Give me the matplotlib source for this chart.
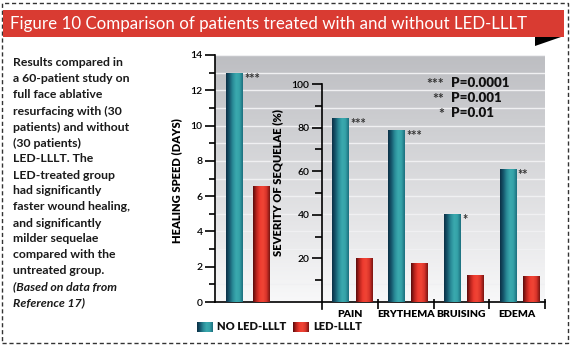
import numpy as np
import matplotlib as mpl
import matplotlib.pyplot as plt
from matplotlib.patches import Rectangle, Polygon
from matplotlib.colors import LinearSegmentedColormap

# data
healing_groups = ['NO LED-LLLT', 'LED-LLLT']
healing_days = [13.0, 6.55]
healing_stars = '***'

sequelae_cats = ['PAIN', 'ERYTHEMA', 'BRUISING', 'EDEMA']
sequelae_no_led = [84.5, 79.0, 40.5, 61.0]
sequelae_led = [20.0, 18.0, 12.5, 12.0]
sequelae_stars = ['***', '***', '*', '**']

p_stars = ['***', '**', '*']
p_values = ['P=0.0001', 'P=0.001', 'P=0.01']

caption_lines = ["Results compared in", "a 60-patient study on",
                 "full face ablative", "resurfacing with (30",
                 "patients) and without", "(30 patients)", "LED-LLLT. The",
                 "LED-treated group", "had significantly",
                 "faster wound healing,", "and significantly",
                 "milder sequelae", "compared with the", "untreated group."]
caption_ref_lines = ["(Based on data from", "Reference 17)"]
title = "Figure 10 Comparison of patients treated with and without LED-LLLT"

W, H = 573, 352
mpl.rcParams['font.family'] = ['Lato', 'DejaVu Sans']

teal_cmap = LinearSegmentedColormap.from_list(
    'teal', ['#0b2f45', '#16586e', '#2a8c98', '#3aa9ae', '#35a2a8', '#1d6f7e'])
red_cmap = LinearSegmentedColormap.from_list(
    'red', ['#5a0c0c', '#b8231d', '#ee3b2f', '#f04535', '#d8332a', '#7a1512'])
bg_cmap = LinearSegmentedColormap.from_list('bg', ['#f8f8f9', '#bdbec2'])
grad = np.linspace(0, 1, 64).reshape(1, -1)


def px(x0, y0, x1, y1):
    # pixel box (top-left origin) -> figure rect
    return [x0 / W, 1 - y1 / H, (x1 - x0) / W, (y1 - y0) / H]


def gradient_bars(ax, bars, cmap):
    for b in bars:
        x, y = b.get_xy()
        w, h = b.get_width(), b.get_height()
        b.set_facecolor('none')
        b.set_edgecolor('none')
        im = ax.imshow(grad, cmap=cmap, extent=(x, x + w, y, y + h),
                       aspect='auto', zorder=3, interpolation='bilinear')
        im.set_clip_path(b)


fig = plt.figure(figsize=(W / 100, H / 100), dpi=100)

# dashed frame, banner
fig.patches.append(Rectangle((2 / W, 1 - 343 / H), 566 / W, 340 / H,
                             transform=fig.transFigure, fill=False,
                             edgecolor='#333333', lw=1, linestyle=(0, (3, 2))))
fig.patches.append(Rectangle((3 / W, 1 - 37 / H), 561 / W, 27 / H,
                             transform=fig.transFigure, facecolor='#d93b32',
                             edgecolor='none'))
fig.patches.append(Polygon([(535 / W, 1 - 37 / H), (561 / W, 1 - 37 / H),
                            (535 / W, 1 - 46 / H)], closed=True,
                           transform=fig.transFigure, facecolor='black'))
fig.text(10 / W, 1 - 24.5 / H, title, color='white', fontsize=12.2,
         va='center', ha='left')

# caption, one line at a time (16 px pitch)
all_lines = caption_lines + caption_ref_lines
for i, line in enumerate(all_lines):
    italic = i >= len(caption_lines)
    fig.text(13 / W, 1 - (62 + 16 * i) / H, line, fontsize=8.8,
             fontweight='bold', style='italic' if italic else 'normal',
             va='center_baseline', ha='left', color='#1a1a1a')

# left chart: healing speed, also carries the grey backdrop
ax1 = fig.add_axes(px(215, 55, 545, 302))
xmax = 330 / 55.75
ax1.imshow(np.linspace(0, 1, 128).reshape(-1, 1)[::-1], cmap=bg_cmap,
           extent=(0, xmax, 0, 14), aspect='auto', zorder=0)
bars = ax1.bar([0.34, 0.83], healing_days, width=0.29, zorder=3)
gradient_bars(ax1, [bars[0]], teal_cmap)
gradient_bars(ax1, [bars[1]], red_cmap)
ax1.annotate(healing_stars, (0.34 + 0.145, healing_days[0]), xytext=(1.5, 0),
             textcoords='offset points', fontsize=9, fontweight='bold',
             va='top', ha='left', color='#333333')
ax1.set_xlim(0, xmax)
ax1.set_ylim(0, 14)
ax1.set_yticks(np.arange(0, 15, 2))
ax1.set_yticks(np.arange(1, 14, 2), minor=True)
ax1.set_xticks([])
ax1.grid(axis='y', which='both', color='#f0f0f2', lw=1.0, zorder=1)
ax1.set_axisbelow(True)
for s in ['top', 'right']:
    ax1.spines[s].set_visible(False)
ax1.spines['left'].set_linewidth(1.2)
ax1.spines['bottom'].set_linewidth(1.2)
ax1.tick_params(axis='y', which='major', length=7, width=1.2, labelsize=7.5, pad=2)
ax1.tick_params(axis='y', which='minor', length=4, width=1.2)
for lbl in ax1.get_yticklabels():
    lbl.set_fontweight('semibold')
ax1.set_ylabel('HEALING SPEED (DAYS)', fontsize=8, fontweight='heavy')
ax1.yaxis.set_label_coords(-0.1, 0.49)

# right chart: severity of sequelae
ax2 = fig.add_axes(px(322, 84, 545, 309))
ax2.patch.set_visible(False)
idx = np.arange(len(sequelae_cats))
b_no = ax2.bar(idx + 0.33, sequelae_no_led, width=0.29, zorder=3)
b_led = ax2.bar(idx + 0.75, sequelae_led, width=0.29, zorder=3)
gradient_bars(ax2, b_no, teal_cmap)
gradient_bars(ax2, b_led, red_cmap)
for i, (v, s) in enumerate(zip(sequelae_no_led, sequelae_stars)):
    ax2.annotate(s, (i + 0.33 + 0.145, v), xytext=(1.5, 0),
                 textcoords='offset points', fontsize=9, fontweight='bold',
                 va='top', ha='left', color='#333333')
ax2.set_xlim(0, 4)
ax2.set_ylim(-3.2, 100)
ax2.set_yticks(np.arange(20, 101, 20))
ax2.set_yticks(np.arange(10, 100, 20), minor=True)
ax2.set_xticks([1, 2, 3, 4])
ax2.set_xticklabels([])
ax2.set_xticks(idx + 0.5, minor=True)
ax2.set_xticklabels(sequelae_cats, minor=True)
for s in ['top', 'right', 'bottom']:
    ax2.spines[s].set_visible(False)
ax2.spines['left'].set_linewidth(1.2)
ax2.tick_params(axis='x', which='major', direction='in', length=7, width=1.2)
ax2.tick_params(axis='x', which='minor', length=0, labelsize=7.5, pad=0.5)
for lbl in ax2.get_xticklabels(minor=True):
    lbl.set_fontweight('heavy')
for lbl in ax2.get_yticklabels():
    lbl.set_fontweight('semibold')
ax2.tick_params(axis='y', which='major', length=7, width=1.2, labelsize=7.5, pad=2)
ax2.tick_params(axis='y', which='minor', length=5, width=1.2)
ax2.set_ylabel('SEVERITY OF SEQUELAE (%)', fontsize=8, fontweight='heavy')
ax2.yaxis.set_label_coords(-0.175, 0.56)

# p-value key
for k, (st, pv) in enumerate(zip(p_stars, p_values)):
    y = 1 - (83 + 15 * k) / H
    fig.text(444 / W, y - 1 / H, st, fontsize=10, fontweight='bold', ha='right',
             va='center', color='#333333')
    fig.text(451 / W, y, pv, fontsize=9.6, fontweight='heavy', ha='left',
             va='center', color='#111111')

# legend swatches
for (x0, name, cmap) in [(197, healing_groups[0], teal_cmap),
                         (293, healing_groups[1], red_cmap)]:
    sw = fig.add_axes(px(x0, 322, x0 + 16, 332))
    sw.imshow(grad, cmap=cmap, aspect='auto')
    sw.axis('off')
    fig.text((x0 + 20) / W, 1 - 327 / H, name, fontsize=8, fontweight='heavy',
             ha='left', va='center', color='#111111')

fig.savefig('out.png', dpi=100)
